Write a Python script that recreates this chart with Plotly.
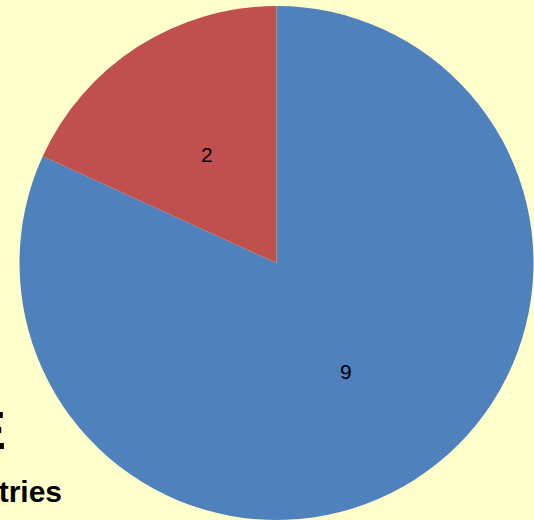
import math
import plotly.graph_objects as go

labels = ["A", "B"]
values = [9, 2]
colors = ["#4F81BD", "#C0504D"]
bg = "#FFFFCC"

W, H = 534, 520
L, T = 19, 6
PW, PH = W - L, H - T
R_PX = min(PW, PH) / 2

fig = go.Figure(go.Pie(
    labels=labels,
    values=values,
    marker=dict(colors=colors, line=dict(width=0)),
    sort=False,
    direction="clockwise",
    rotation=0,
    textinfo="none",
    showlegend=False,
    hoverinfo="none",
))

# value labels placed at half radius along each slice's mid-angle
annotations = []
total = sum(values)
start = 0.0
for v in values:
    mid = start + v / total * 180.0
    start += v / total * 360.0
    a = math.radians(mid)
    r = 0.5 * R_PX
    annotations.append(dict(
        text=str(v), xref="paper", yref="paper",
        x=0.5 + r * math.sin(a) / PW, y=0.5 + r * math.cos(a) / PH,
        xanchor="center", yanchor="middle", showarrow=False,
        font=dict(family="Liberation Sans, Arial", size=21, color="#000000"),
    ))

annotations += [
    dict(text="<b>Countries</b>", xref="paper", yref="paper",
         x=(63 - L) / PW, y=1 - (491 - T) / PH,
         xanchor="right", yanchor="middle", showarrow=False,
         font=dict(family="Liberation Sans, Arial", size=30, color="#000000"),
         borderpad=0),
    dict(text="<b>E</b>", xref="paper", yref="paper",
         x=(7 - L) / PW, y=1 - (430 - T) / PH,
         xanchor="right", yanchor="middle", showarrow=False,
         font=dict(family="Liberation Sans, Arial", size=54, color="#000000"),
         borderpad=0),
]

fig.update_layout(
    width=W, height=H,
    margin=dict(l=L, r=0, t=T, b=0, pad=0),
    paper_bgcolor=bg,
    plot_bgcolor=bg,
    annotations=annotations,
)

fig.write_html(
    "out.html",
    config={"displayModeBar": False},
    post_script="document.body.style.margin='0px';document.body.style.overflow='hidden';",
)
